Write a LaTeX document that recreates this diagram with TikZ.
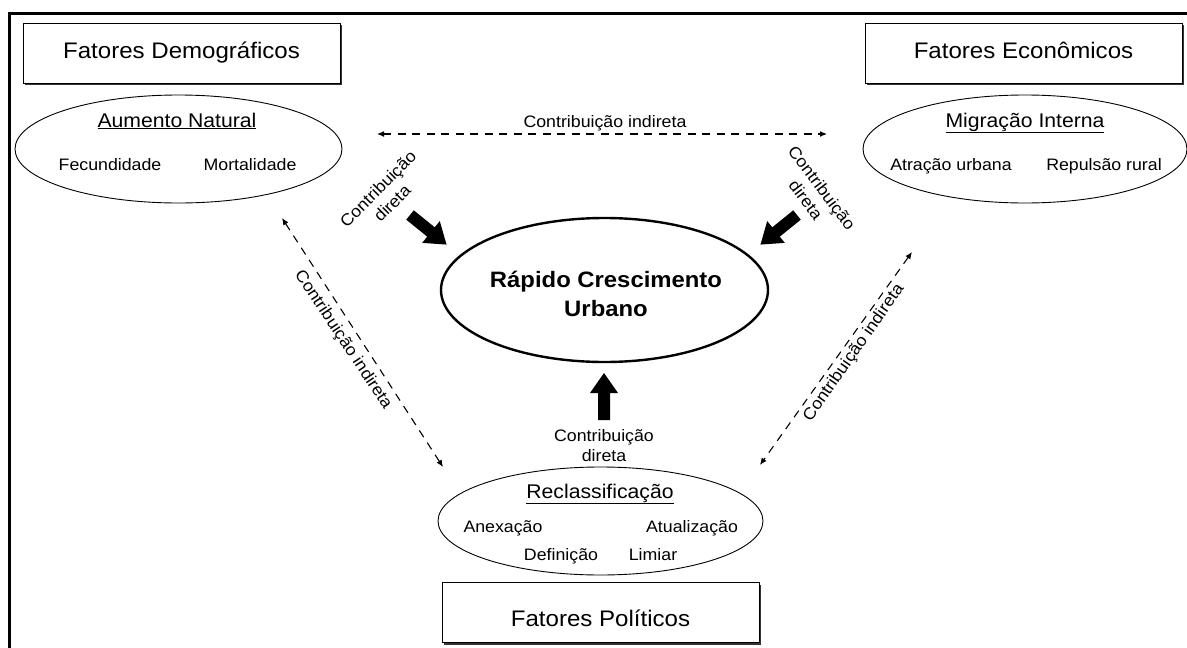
\documentclass[tikz,border=0pt]{standalone}
\usepackage{fontspec}
\setmainfont{Liberation Sans}[FakeStretch=1.07]
\usetikzlibrary{shapes.geometric,arrows.meta,shadows}
\begin{document}
\begin{tikzpicture}[x=1pt,y=-1pt,
  titlebox/.style={draw, line width=0.9pt, fill=white, inner sep=0pt,
    minimum width=317pt, minimum height=60pt,
    drop shadow={shadow xshift=2.2pt, shadow yshift=-2.2pt, fill=black!80, opacity=1}},
  ell/.style={draw, ellipse, line width=0.9pt, inner sep=0pt},
  bigell/.style={draw, ellipse, line width=2.4pt, inner sep=0pt},
  boxtxt/.style={font=\fontsize{22.5}{26}\selectfont, inner sep=0pt},
  elltitle/.style={font=\fontsize{19.8}{23}\selectfont, inner sep=0pt},
  small/.style={font=\fontsize{16.6}{20}\selectfont, inner sep=0pt},
  boldtxt/.style={font=\fontsize{22.3}{29}\selectfont\bfseries, inner sep=0pt, align=center},
  dasharr/.style={line width=1.1pt, dash pattern=on 8pt off 6.5pt, {Latex[length=7pt,width=6pt]}-{Latex[length=7pt,width=6pt]}},
  fatarrow/.pic={\fill[black] (0,-6) -- (27,-6) -- (27,-14) -- (47,0) -- (27,14) -- (27,6) -- (0,6) -- cycle;}
]
\useasboundingbox (0,0) rectangle (1187,648);

% outer frame
\draw[line width=3pt] (9.5,648) -- (9.5,13) -- (1187,13);

% boxes
\node[titlebox] (demo) at (181.5,53) {};
\node[boxtxt, anchor=base] (demoT) at (181.5,58) {Fatores Demográficos};
\node[titlebox] (econ) at (1023.5,53) {};
\node[boxtxt, anchor=base] (econT) at (1023.5,58) {Fatores Econômicos};
\node[titlebox] (pol) at (600.5,612.5) {};
\node[boxtxt, anchor=base] (polT) at (600.5,626) {Fatores Políticos};

% ellipses
\node[ell, minimum width=327pt, minimum height=108pt] (nat) at (178.5,149) {};
\node[elltitle, anchor=base] (natT) at (177,127) {\underline{Aumento Natural}};
\node[small, anchor=base] (fec) at (110,170) {Fecundidade};
\node[small, anchor=base] (mor) at (250,170) {Mortalidade};

\node[ell, minimum width=324pt, minimum height=108pt] (mig) at (1025,149) {};
\node[elltitle, anchor=base] (migT) at (1025,127) {\underline{Migração Interna}};
\node[small, anchor=base] (atr) at (951,170) {Atração urbana};
\node[small, anchor=base] (rep) at (1104,170) {Repulsão rural};

\node[ell, minimum width=325pt, minimum height=108pt] (rec) at (600.5,521) {};
\node[elltitle, anchor=base] (recT) at (600,498) {\underline{Reclassificação}};
\node[small, anchor=base] (anx) at (503,532) {Anexação};
\node[small, anchor=base] (atu) at (692,532) {Atualização};
\node[small, anchor=base] (def) at (561,560) {Definição};
\node[small, anchor=base] (lim) at (653,560) {Limiar};

% central ellipse
\node[bigell, minimum width=327pt, minimum height=144pt] (rcu) at (604.5,290) {};
\node[boldtxt] (rcuT) at (606,294) {Rápido Crescimento\\Urbano};

% thick arrows (direct contribution)
\coordinate (fL) at (410,215);
\coordinate (fR) at (797,215);
\coordinate (fB) at (604,420);
\pic[rotate=-39] at (fL) {fatarrow};
\pic[rotate=-141] at (fR) {fatarrow};
\pic[rotate=90] at (fB) {fatarrow};

\node[small, align=center, rotate=45] (cdL) at (385,196) {Contribuição\\direta};
\node[small, align=center, rotate=-53] (cdR) at (814,194) {Contribuição\\direta};
\node[small, align=center] (cdB) at (604,446) {Contribuição\\direta};

% dashed indirect contributions
\coordinate (dT1) at (377,134);
\coordinate (dT2) at (827,134);
\draw[dasharr] (dT1) -- (dT2);
\node[small, anchor=base] (ciT) at (605,127) {Contribuição indireta};

\coordinate (dL1) at (282,218);
\coordinate (dL2) at (443,467);
\draw[dasharr] (dL1) -- (dL2);
\node[small, rotate=-56.5] (ciL) at (343,340) {Contribuição indireta};

\coordinate (dR1) at (912,252);
\coordinate (dR2) at (760,465);
\draw[dasharr] (dR1) -- (dR2);
\node[small, rotate=55] (ciR) at (854,353) {Contribuição indireta};
\end{tikzpicture}
\end{document}
